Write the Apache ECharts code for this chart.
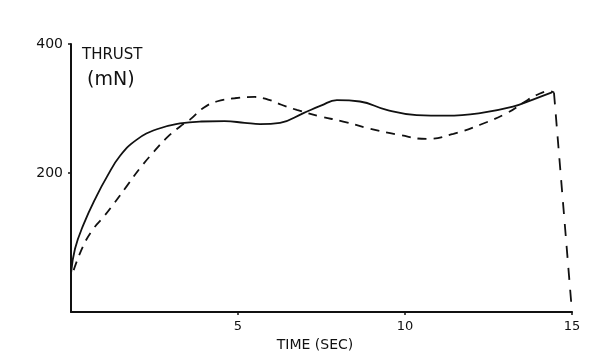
<!DOCTYPE html>
<html>
<head>
<meta charset="utf-8">
<script src="https://cdn.jsdelivr.net/npm/echarts@6/dist/echarts.min.js"></script>
<style>html,body{margin:0;padding:0;background:#fff;}#c{width:610px;height:357px;}</style>
</head>
<body>
<div id="c"></div>
<script>
// Solid curve (time in sec, thrust in mN)
var solidT = [0, 0.12, 0.37, 0.77, 1.07, 1.47, 1.97, 2.57, 3.26, 3.9, 4.6, 5.2, 5.66, 6.26, 6.96, 7.5, 7.96, 8.65, 9.45, 10.35, 11.25, 12.25, 13.23, 13.83, 14.4];
var solidV = [45, 83, 120, 165, 194, 227, 252, 268, 277, 280, 280.5, 278, 276, 278, 293, 305, 313, 311, 298, 290, 289, 293, 303, 314, 325];
// Dashed curve
var dashT = [0.08, 0.37, 0.67, 0.97, 1.27, 1.67, 2.07, 2.46, 2.87, 3.26, 3.56, 3.96, 4.36, 4.9, 5.5, 5.9, 6.3, 6.76, 7.46, 8.15, 8.95, 9.85, 10.65, 11.45, 12.25, 13.05, 13.54, 13.94, 14.34, 14.46];
var dashV = [50, 88, 114, 132, 152, 180, 208, 232, 255, 272, 283, 301, 311, 316, 318, 314, 306, 298, 288, 280, 269, 259, 253, 261, 275, 293, 309, 321, 327, 325];
// Dashed cut-off drop
var dropT = [14.46, 15.0];
var dropV = [325, -15];
// Axis ticks
var xTicks = [5, 10, 15];
var yTicks = [200, 400];
var xName = 'TIME (SEC)';
var yName1 = 'THRUST';
var yName2 = '(mN)';

function zip(a, b) { return a.map(function (v, i) { return [v, b[i]]; }); }

var chart = echarts.init(document.getElementById('c'));
var font = 'DejaVu Sans';
chart.setOption({
  animation: false,
  backgroundColor: '#fff',
  grid: { left: 71, right: 38, top: 44, bottom: 43 },
  xAxis: {
    type: 'value', min: 0, max: 15,
    name: xName, nameLocation: 'middle', nameGap: 17,
    nameTextStyle: { color: '#111', fontFamily: font, fontSize: 14, padding: [0, 13, 0, 0] },
    axisLine: { show: true, onZero: false, lineStyle: { color: '#111', width: 2 } },
    axisTick: { show: true, customValues: xTicks, length: 3, inside: false, lineStyle: { color: '#111', width: 1.5 } },
    axisLabel: { customValues: xTicks, color: '#111', fontFamily: font, fontSize: 13, margin: 8 },
    splitLine: { show: false }
  },
  yAxis: {
    type: 'value', min: -15, max: 400,
    axisLine: { show: true, onZero: false, lineStyle: { color: '#111', width: 2 } },
    axisTick: { show: true, customValues: yTicks, length: 3, lineStyle: { color: '#111', width: 1.5 } },
    axisLabel: { customValues: yTicks, color: '#111', fontFamily: font, fontSize: 14, margin: 8 },
    splitLine: { show: false }
  },
  graphic: [
    { type: 'text', left: 82, top: 48, style: { text: yName1, fill: '#111', font: '15px "DejaVu Sans"' } },
    { type: 'text', left: 87, top: 71, style: { text: yName2, fill: '#111', font: '19px "DejaVu Sans"' } }
  ],
  series: [
    { type: 'line', data: zip(solidT, solidV), smooth: 0.45, showSymbol: false,
      lineStyle: { color: '#111', width: 1.8 } },
    { type: 'line', data: zip(dashT, dashV), smooth: 0.45, showSymbol: false,
      lineStyle: { color: '#111', width: 1.8, type: [9, 7] } },
    { type: 'line', data: zip(dropT, dropV), smooth: false, showSymbol: false,
      lineStyle: { color: '#111', width: 1.8, type: [12, 10] } }
  ]
});
</script>
</body>
</html>
